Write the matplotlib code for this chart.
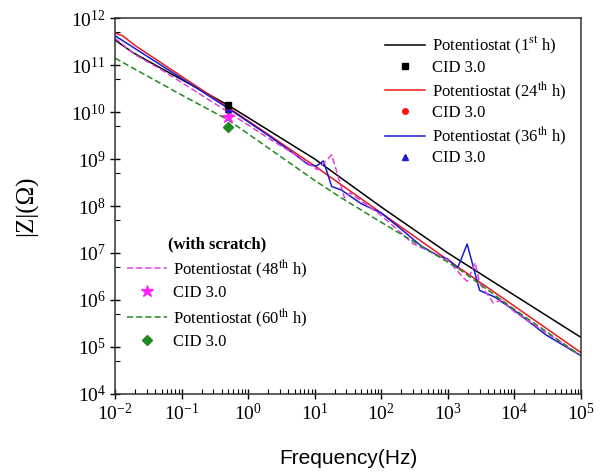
import matplotlib
matplotlib.use("Agg")
import matplotlib.pyplot as plt
from matplotlib.ticker import LogLocator, NullFormatter

plt.rcParams["font.family"] = ["Liberation Serif", "DejaVu Serif"]
plt.rcParams["mathtext.fontset"] = "stix"

# Bode magnitude data (Hz, ohm)
f_1h = [0.01, 0.019, 0.048, 0.5, 10, 100, 1000, 10000, 100000]
z_1h = [3.4e11, 1.8e11, 8.7e10, 1.4e10, 1.0e9, 9.5e7, 1.0e7, 1.26e6, 1.6e5]

f_24h = [0.01, 0.013, 0.02, 0.5, 10, 100, 1000, 10000, 100000]
z_24h = [4.8e11, 4.2e11, 2.6e11, 1.26e10, 7.1e8, 7.1e7, 7.1e6, 7.4e5, 7.6e4]

f_36h = [0.01, 0.1, 0.5, 2, 5, 8, 10.7, 13.5, 18, 25, 50, 100, 200, 400, 700,
         1000, 1400, 1950, 3000, 5100, 10000, 30000, 100000]
z_36h = [4.2e11, 5.2e10, 1.2e10, 3.2e9, 1.26e9, 7.6e8, 7.1e8, 9.1e8, 2.6e8,
         2.2e8, 1.12e8, 7.1e7, 3.2e7, 1.4e7, 8.9e6, 7.4e6, 4.8e6, 1.55e7,
         1.6e6, 1.15e6, 6.0e5, 1.8e5, 6.5e4]

f_48h = [0.01, 0.02, 0.05, 0.5, 2, 5, 11, 18, 28, 34, 100, 300, 1000, 1700,
         1950, 2570, 3000, 4800, 6500, 10000, 100000]
z_48h = [3.7e11, 1.66e11, 7.9e10, 1.0e10, 2.8e9, 1.26e9, 5.9e8, 1.23e9,
         1.48e8, 1.9e8, 6.3e7, 1.58e7, 7.1e6, 3.0e6, 2.5e6, 6.2e6, 2.3e6,
         8.7e5, 1.0e6, 5.6e5, 6.5e4]

f_60h = [0.01, 0.1, 0.5, 10, 24, 100, 1400, 10000, 100000]
z_60h = [1.4e11, 2.3e10, 6.8e9, 3.5e8, 1.55e8, 4.5e7, 4.8e6, 6.3e5, 6.5e4]

# CID 3.0 single-frequency points
cid_f = 0.5
cid_1h, cid_24h, cid_36h, cid_48h, cid_60h = 1.4e10, 1.1e10, 1.15e10, 7.8e9, 4.8e9

fig = plt.figure(figsize=(6.06, 4.74), dpi=100, facecolor="white")
ax = fig.add_axes([115 / 606, 1 - 394 / 474, 466 / 606, 376 / 474])

h1, = ax.plot(f_1h, z_1h, color="black", lw=1.1)
h2, = ax.plot(f_24h, z_24h, color="#e8191c", lw=1.1)
h3, = ax.plot(f_36h, z_36h, color="#1a1ad0", lw=1.1)
h4, = ax.plot(f_48h, z_48h, color="#e040e0", lw=1.1, ls=(0, (4, 2)))
h5, = ax.plot(f_60h, z_60h, color="#1f8a1f", lw=1.1, ls=(0, (4, 2)))

m5, = ax.plot([cid_f], [cid_60h], "D", color="#1f8a1f", ms=5, ls="none")
m4, = ax.plot([cid_f], [cid_48h], "*", color="#ff22ff", ms=9, ls="none")
m2, = ax.plot([cid_f], [cid_24h], "o", color="#ff1010", ms=4, ls="none")
m3, = ax.plot([cid_f], [cid_36h], "^", color="#1a1ad0", ms=5, ls="none")
m1, = ax.plot([cid_f], [cid_1h], "s", color="black", ms=4.5, ls="none")

ax.set_xscale("log")
ax.set_yscale("log")
ax.set_xlim(1e-2, 1e5)
ax.set_ylim(1e4, 1e12)
ax.yaxis.set_major_locator(LogLocator(base=10, numticks=20))
ax.yaxis.set_minor_locator(LogLocator(base=10, subs=[5], numticks=20))
ax.yaxis.set_minor_formatter(NullFormatter())
ax.xaxis.set_major_locator(LogLocator(base=10, numticks=20))
ax.xaxis.set_minor_locator(LogLocator(base=10, subs=range(2, 10), numticks=20))
ax.xaxis.set_minor_formatter(NullFormatter())
ax.tick_params(which="major", direction="inout", length=7, width=1, labelsize=14, pad=3)
ax.tick_params(which="minor", direction="in", length=3.5, width=0.8)
for s in ax.spines.values():
    s.set_linewidth(1.1)
    s.set_color("#333333")

ax.set_ylabel("|Z|(Ω)", fontsize=18, labelpad=24)
ax.set_xlabel("Frequency(Hz)", fontsize=15, family=["Liberation Sans"], labelpad=18)

kw = dict(frameon=False, fontsize=12, handlelength=2.4, handletextpad=0.4,
          borderpad=0, borderaxespad=0)
leg1 = ax.legend([h1, m1, h2, m2, h3, m3],
                 [r"Potentiostat (1$^{\mathrm{st}}$ h)", "CID 3.0",
                  r"Potentiostat (24$^{\mathrm{th}}$ h)", "CID 3.0",
                  r"Potentiostat (36$^{\mathrm{th}}$ h)", "CID 3.0"],
                 loc="upper left", bbox_to_anchor=(0.58, 0.955), labelspacing=0.2, **kw)
ax.add_artist(leg1)
leg2 = ax.legend([h4, m4, h5, m5],
                 [r"Potentiostat (48$^{\mathrm{th}}$ h)", "CID 3.0",
                  r"Potentiostat (60$^{\mathrm{th}}$ h)", "CID 3.0"],
                 loc="upper left", bbox_to_anchor=(0.025, 0.42), labelspacing=0.3,
                 title="(with scratch)", title_fontproperties={"weight": "bold", "size": 12},
                 **kw)

fig.savefig("out.png", dpi=100, facecolor="white")
